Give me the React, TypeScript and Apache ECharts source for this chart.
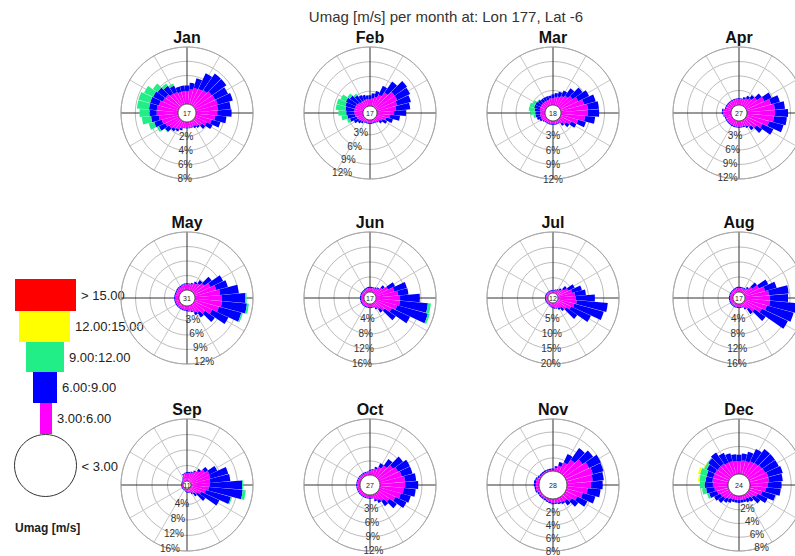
import React, { useEffect, useRef } from 'react';
import * as echarts from 'echarts';

// ---------------- data ----------------
const TITLE = 'Umag [m/s] per month at: Lon 177, Lat -6';
const MONTHS = ['Jan', 'Feb', 'Mar', 'Apr', 'May', 'Jun', 'Jul', 'Aug', 'Sep', 'Oct', 'Nov', 'Dec'];
// direction bins (degrees, clockwise from north), 10 degree bins
const DIRECTIONS = [
  '0', '10', '20', '30', '40', '50', '60', '70', '80', '90', '100', '110',
  '120', '130', '140', '150', '160', '170', '180', '190', '200', '210', '220', '230',
  '240', '250', '260', '270', '280', '290', '300', '310', '320', '330', '340', '350',
];
const SPOKES = ['0', '30', '60', '90', '120', '150', '180', '210', '240', '270', '300', '330'];
// calm (< 3 m/s) percentage shown in centre circle
const CALM_PCT = [17, 17, 18, 27, 31, 17, 12, 17, 11, 27, 28, 24];
// outermost ring value (%) of each rose, four rings each
const RING_MAX = [8, 12, 12, 12, 12, 16, 20, 16, 16, 12, 8, 8];
const SPEED_BINS = ['> 15.00', '12.00:15.00', '9.00:12.00', '6.00:9.00', '3.00:6.00', '< 3.00'];
const LEGEND_TITLE = 'Umag [m/s]';

// frequencies (%) per direction bin; order 0,10,...,350
const janMag = [1.8, 2.1, 2.4, 2.5, 2.7, 3.0, 3.1, 3.2, 3.1, 3.0, 2.7, 2.3, 1.8, 1.3, 1.0, 0.8, 0.8, 0.8, 0.8, 0.8, 1.0, 1.3, 1.5, 1.8, 2.1, 2.4, 2.7, 3.0, 3.0, 2.8, 2.5, 2.4, 2.1, 2.0, 1.8, 1.8];
const janBlu = [0.8, 0.9, 1.4, 2.4, 2.8, 2.5, 2.0, 2.2, 1.8, 2.0, 1.6, 1.3, 0.9, 0.6, 0.3, 0.3, 0.1, 0.1, 0.1, 0.1, 0.3, 0.3, 0.4, 0.7, 1.0, 1.1, 1.1, 1.0, 1.1, 1.3, 1.5, 1.4, 1.3, 1.0, 0.8, 0.8];
const janGrn = [0, 0, 0, 0, 0, 0, 0, 0, 0, 0, 0, 0, 0, 0, 0, 0, 0, 0, 0, 0, 0, 0, 0, 0.1, 0.3, 0.8, 1.3, 1.4, 1.7, 1.7, 1.4, 0.8, 0.4, 0.3, 0, 0];

const febMag = [1.4, 1.6, 2.0, 2.7, 3.7, 4.7, 4.7, 4.3, 3.9, 3.5, 2.7, 2.0, 1.4, 1.0, 0.8, 0.6, 0.6, 0.6, 0.6, 0.6, 0.6, 0.6, 0.8, 1.0, 1.2, 1.4, 1.6, 1.8, 1.8, 1.8, 1.8, 1.6, 1.4, 1.4, 1.4, 1.4];
const febBlu = [0.8, 1.0, 1.2, 2.0, 2.7, 3.1, 2.9, 2.9, 2.9, 2.4, 2.0, 1.4, 1.0, 0.6, 0.2, 0.2, 0.2, 0.2, 0.2, 0.2, 0.2, 0.2, 0.4, 0.6, 1.0, 1.4, 1.6, 1.6, 1.8, 2.0, 2.2, 2.0, 1.6, 1.2, 1.0, 0.8];
const febGrn = [0, 0, 0, 0, 0, 0, 0, 0, 0, 0, 0, 0, 0, 0, 0, 0, 0, 0, 0, 0, 0, 0, 0, 0, 0, 0.6, 1.2, 1.6, 2.0, 1.8, 1.2, 0.6, 0.4, 0, 0, 0];

const marMag = [1.4, 1.7, 1.9, 2.3, 2.7, 3.3, 4.1, 5.0, 5.6, 5.6, 5.0, 3.7, 2.5, 1.7, 1.0, 0.6, 0.6, 0.6, 0.6, 0.6, 0.6, 0.6, 0.6, 0.8, 1.0, 1.0, 1.0, 1.0, 1.0, 1.2, 1.2, 1.2, 1.2, 1.2, 1.2, 1.4];
const marBlu = [0.8, 0.8, 1.0, 1.2, 1.9, 2.5, 2.5, 2.5, 2.3, 2.3, 2.1, 1.7, 1.2, 0.8, 0.6, 0.2, 0.2, 0.2, 0.2, 0.2, 0.2, 0.2, 0.2, 0.2, 0.4, 0.8, 1.0, 1.0, 1.2, 1.2, 1.2, 1.0, 0.8, 0.8, 0.8, 0.6];
const marGrn = [0, 0, 0, 0, 0, 0, 0, 0, 0, 0, 0, 0, 0, 0, 0, 0, 0, 0, 0, 0, 0, 0, 0, 0, 0, 0, 0.4, 1.0, 1.2, 1.0, 0.6, 0.2, 0, 0, 0, 0];

const aprMag = [1.2, 1.2, 1.4, 1.7, 2.1, 2.9, 4.1, 5.2, 5.8, 5.8, 5.6, 4.8, 3.7, 2.7, 1.9, 1.4, 1.2, 1.2, 1.2, 1.2, 1.2, 1.2, 1.2, 1.2, 1.2, 1.2, 1.4, 1.7, 1.7, 1.2, 1.2, 1.2, 1.2, 1.2, 1.2, 1.2];
const aprBlu = [0.2, 0.2, 0.4, 0.6, 0.8, 1.2, 1.7, 1.9, 2.1, 2.7, 2.7, 3.1, 2.5, 1.5, 0.8, 0.4, 0.2, 0.2, 0.2, 0.2, 0.2, 0.2, 0.2, 0.2, 0.2, 0.2, 0.2, 0.2, 0.2, 0.2, 0.2, 0.2, 0.2, 0.2, 0.2, 0.2];

const mayMag = [1.2, 1.2, 1.4, 1.7, 2.1, 2.7, 3.7, 4.6, 5.2, 5.6, 5.6, 5.2, 4.1, 2.9, 2.1, 1.7, 1.2, 1.0, 0.9, 0.8, 0.8, 0.8, 0.8, 0.8, 0.8, 0.8, 0.8, 0.8, 0.8, 0.8, 0.8, 0.9, 1.0, 1.0, 1.1, 1.2];
const mayBlu = [0.2, 0.2, 0.2, 0.4, 0.8, 1.9, 2.9, 2.5, 3.9, 4.8, 5.2, 4.8, 3.7, 2.5, 1.2, 0.6, 0.2, 0.2, 0.2, 0.2, 0.2, 0.2, 0.2, 0.2, 0.2, 0.2, 0.2, 0.2, 0.2, 0.2, 0.2, 0.2, 0.2, 0.2, 0.2, 0.2];
const mayGrn = [0, 0, 0, 0, 0, 0, 0, 0, 0, 0.3, 0.4, 0.3, 0, 0, 0, 0, 0, 0, 0, 0, 0, 0, 0, 0, 0, 0, 0, 0, 0, 0, 0, 0, 0, 0, 0, 0];

const junMag = [1.1, 1.1, 1.1, 1.3, 1.6, 2.4, 3.7, 5.1, 5.9, 6.4, 6.4, 5.9, 4.8, 3.2, 2.1, 1.3, 0.8, 0.8, 0.8, 0.8, 0.8, 0.8, 0.8, 0.8, 0.8, 0.8, 0.8, 0.8, 0.8, 0.8, 0.8, 0.8, 0.8, 0.9, 1.0, 1.1];
const junBlu = [0.3, 0.3, 0.3, 0.3, 0.3, 0.8, 2.1, 3.5, 2.8, 5.3, 7.5, 8.5, 5.4, 3.6, 1.1, 0.5, 0.3, 0.3, 0.3, 0.3, 0.3, 0.3, 0.3, 0.3, 0.3, 0.3, 0.3, 0.3, 0.3, 0.3, 0.3, 0.3, 0.3, 0.3, 0.3, 0.3];
const junGrn = [0, 0, 0, 0, 0, 0, 0, 0, 0, 0, 0.8, 0.5, 0, 0, 0, 0, 0, 0, 0, 0, 0, 0, 0, 0, 0, 0, 0, 0, 0, 0, 0, 0, 0, 0, 0, 0];

const julMag = [0.7, 0.8, 1.0, 1.3, 1.6, 2.6, 3.9, 4.9, 5.6, 5.9, 6.2, 5.6, 4.9, 3.6, 2.3, 2.0, 1.8, 1.6, 1.4, 1.2, 1.0, 0.7, 0.7, 0.7, 0.7, 0.7, 0.7, 0.7, 0.7, 0.7, 0.7, 0.7, 0.7, 0.7, 0.7, 0.7];
const julBlu = [0.3, 0.3, 0.3, 0.3, 0.7, 1.3, 2.3, 3.3, 3.6, 6.2, 10.2, 10.0, 7.2, 4.5, 1.3, 0.7, 0.3, 0.3, 0.3, 0.3, 0.3, 0.3, 0.3, 0.3, 0.3, 0.3, 0.3, 0.3, 0.3, 0.3, 0.3, 0.3, 0.3, 0.3, 0.3, 0.3];

const augMag = [1.1, 1.1, 1.1, 1.1, 1.6, 2.7, 4.3, 5.6, 6.4, 6.7, 6.7, 6.1, 5.1, 3.5, 2.1, 1.3, 0.8, 0.8, 0.8, 0.8, 0.8, 0.8, 0.8, 0.8, 0.8, 0.8, 0.8, 0.8, 0.8, 0.8, 0.8, 0.8, 0.8, 0.9, 1.0, 1.1];
const augBlu = [0.3, 0.3, 0.3, 0.3, 0.5, 1.6, 2.7, 3.2, 5.3, 4.8, 8.3, 7.4, 7.7, 3.6, 1.6, 0.5, 0.3, 0.3, 0.3, 0.3, 0.3, 0.3, 0.3, 0.3, 0.3, 0.3, 0.3, 0.3, 0.3, 0.3, 0.3, 0.3, 0.3, 0.3, 0.3, 0.3];

const sepMag = [2.0, 2.1, 2.3, 2.8, 3.5, 4.6, 5.4, 5.2, 5.0, 4.9, 4.6, 4.0, 3.0, 2.2, 1.6, 1.2, 1.0, 0.8, 0.8, 0.6, 0.3, 0.3, 0.3, 0.3, 0.3, 0.3, 0.3, 0.3, 0.3, 0.3, 0.3, 0.4, 0.6, 1.0, 1.8, 2.0];
const sepBlu = [0.3, 0.3, 0.3, 0.3, 0.6, 1.0, 2.2, 4.8, 5.2, 8.3, 8.8, 6.7, 5.2, 2.6, 1.0, 0.4, 0.2, 0.2, 0.2, 0.2, 0.2, 0.2, 0.2, 0.2, 0.2, 0.2, 0.2, 0.2, 0.2, 0.2, 0.2, 0.2, 0.2, 0.2, 0.2, 0.2];
const sepGrn = [0, 0, 0, 0, 0, 0, 0, 0, 0, 0.3, 0.8, 0.3, 0, 0, 0, 0, 0, 0, 0, 0, 0, 0, 0, 0, 0, 0, 0, 0, 0, 0, 0, 0, 0, 0, 0, 0];

const octMag = [0.9, 1.1, 1.5, 2.1, 3.0, 3.9, 4.5, 4.9, 5.4, 5.4, 5.1, 4.7, 3.9, 3.0, 2.1, 1.5, 1.1, 0.6, 0.6, 0.6, 0.6, 0.6, 0.6, 0.6, 0.6, 0.6, 0.6, 0.6, 0.6, 0.6, 0.6, 0.6, 0.6, 0.6, 0.6, 0.6];
const octBlu = [0.2, 0.2, 0.4, 0.9, 1.7, 2.6, 2.8, 2.4, 2.4, 2.8, 2.6, 2.2, 2.6, 1.9, 1.3, 0.6, 0.4, 0.2, 0.2, 0.2, 0.2, 0.2, 0.2, 0.2, 0.2, 0.2, 0.2, 0.2, 0.2, 0.2, 0.2, 0.2, 0.2, 0.2, 0.2, 0.2];

const novMag = [0.2, 0.5, 0.9, 1.7, 2.6, 3.4, 4.0, 4.2, 4.0, 3.7, 3.2, 2.6, 2.0, 1.4, 0.9, 0.8, 0.7, 0.6, 0.6, 0.5, 0.4, 0.3, 0.3, 0.3, 0.3, 0.5, 0.5, 0.5, 0.5, 0.5, 0.3, 0.2, 0.2, 0.2, 0.2, 0.2];
const novBlu = [0.2, 0.3, 0.6, 1.4, 2.2, 2.0, 2.0, 1.7, 1.7, 1.8, 2.0, 2.0, 1.7, 1.2, 0.8, 0.3, 0.2, 0.2, 0.2, 0.2, 0.2, 0.2, 0.2, 0.2, 0.2, 0.2, 0.2, 0.3, 0.3, 0.2, 0.2, 0.2, 0.2, 0.2, 0.2, 0.2];

const decMag = [1.9, 2.0, 2.0, 2.2, 2.3, 2.5, 2.6, 2.8, 2.8, 2.6, 2.3, 1.9, 1.4, 1.0, 0.7, 0.6, 0.6, 0.6, 0.6, 0.6, 0.6, 0.7, 0.9, 1.2, 1.4, 1.7, 2.0, 2.2, 2.3, 2.3, 2.3, 2.2, 2.2, 2.0, 2.0, 1.9];
const decBlu = [0.9, 1.0, 1.4, 2.0, 2.5, 2.3, 2.2, 2.2, 2.0, 2.0, 2.2, 2.0, 1.6, 1.2, 0.7, 0.6, 0.4, 0.4, 0.4, 0.4, 0.4, 0.6, 0.7, 0.9, 1.0, 1.2, 1.2, 1.2, 1.0, 1.0, 1.3, 1.7, 2.0, 1.6, 1.2, 1.0];
const decGrn = [0, 0, 0, 0, 0, 0, 0, 0, 0, 0, 0, 0, 0, 0, 0, 0, 0, 0, 0, 0, 0, 0, 0, 0, 0, 0.3, 0.6, 0.7, 0.9, 1.0, 0.4, 0.1, 0, 0, 0, 0];
const decYel = [0, 0, 0, 0, 0, 0, 0, 0, 0, 0, 0, 0, 0, 0, 0, 0, 0, 0, 0, 0, 0, 0, 0, 0, 0, 0, 0, 0, 0.2, 0.3, 0.1, 0, 0, 0, 0, 0];

const MONTH_DATA: { mag: number[]; blu: number[]; grn?: number[]; yel?: number[] }[] = [
  { mag: janMag, blu: janBlu, grn: janGrn },
  { mag: febMag, blu: febBlu, grn: febGrn },
  { mag: marMag, blu: marBlu, grn: marGrn },
  { mag: aprMag, blu: aprBlu },
  { mag: mayMag, blu: mayBlu, grn: mayGrn },
  { mag: junMag, blu: junBlu, grn: junGrn },
  { mag: julMag, blu: julBlu },
  { mag: augMag, blu: augBlu },
  { mag: sepMag, blu: sepBlu, grn: sepGrn },
  { mag: octMag, blu: octBlu },
  { mag: novMag, blu: novBlu },
  { mag: decMag, blu: decBlu, grn: decGrn, yel: decYel },
];

// ---------------- layout / style ----------------
const FONT = '"Liberation Sans", Arial, Helvetica, sans-serif';
const COL_X = [187, 370, 553, 739];
const ROW_Y = [113, 298, 485];
const OUTER_R = 66;
const CALM_R = [9, 7, 8, 8, 8, 6, 5, 6, 4, 10, 14, 11];
const LABEL_ANGLE = [-92, -115, -90, -100, -75, -97, -92, -92, -105, -87, -90, -70];
const TITLE_DY = -76;

const C_RED = '#ff0000';
const C_YEL = '#ffff00';
const C_GRN = '#22ee88';
const C_BLU = '#0000ff';
const C_MAG = '#ff00ff';

const LEGEND_BOXES = [
  { x: 15, y: 279, w: 61, h: 32, color: C_RED },
  { x: 19, y: 311, w: 51, h: 31, color: C_YEL },
  { x: 26, y: 342, w: 38, h: 30, color: C_GRN },
  { x: 33, y: 372, w: 24, h: 31, color: C_BLU },
  { x: 40, y: 403, w: 12, h: 31, color: C_MAG },
];
const LEGEND_CIRCLE = { cx: 45.5, cy: 465.5, r: 31 };

function buildOption(): any {
  const polar: any[] = [];
  const angleAxis: any[] = [];
  const radiusAxis: any[] = [];
  const series: any[] = [];
  const graphic: any[] = [];

  MONTH_DATA.forEach((md, i) => {
    const cx = COL_X[i % 4];
    const cy = ROW_Y[Math.floor(i / 4)];
    const r0 = CALM_R[i];
    const max = RING_MAX[i];
    const step = max / 4;
    const radius = [r0, OUTER_R];

    // grid polar: spokes every 30 degrees (N-S / E-W in dark) and rings
    const gi = polar.length;
    polar.push({ center: [cx, cy], radius });
    angleAxis.push({
      polarIndex: gi, type: 'category', data: SPOKES, startAngle: 90, clockwise: true, boundaryGap: true,
      axisLine: { show: true, lineStyle: { color: '#a8a8a8', width: 1 } },
      axisTick: { show: false }, axisLabel: { show: false },
      splitLine: { show: true, lineStyle: { color: ['#333333', '#c6c6c6', '#c6c6c6'], width: 1 } },
      silent: true, z: 0,
    });
    radiusAxis.push({
      polarIndex: gi, type: 'value', min: 0, max, interval: step,
      axisLine: { show: false }, axisTick: { show: false }, axisLabel: { show: false },
      splitLine: { show: true, lineStyle: { color: '#bcbcbc', width: 1 } },
      silent: true, z: 0,
    });

    // data polar: 36 direction bins centred on north
    const di = polar.length;
    polar.push({ center: [cx, cy], radius });
    angleAxis.push({
      polarIndex: di, type: 'category', data: DIRECTIONS, startAngle: 95, clockwise: true, boundaryGap: true,
      show: false,
    });
    radiusAxis.push({ polarIndex: di, type: 'value', min: 0, max, show: false });

    // label polar: ring percentage labels along a chosen direction
    const li = polar.length;
    polar.push({ center: [cx, cy], radius });
    angleAxis.push({ polarIndex: li, type: 'value', min: 0, max: 360, startAngle: LABEL_ANGLE[i], show: false });
    radiusAxis.push({
      polarIndex: li, type: 'value', min: 0, max, interval: step, z: 10,
      axisLine: { show: false }, axisTick: { show: false }, splitLine: { show: false },
      axisLabel: {
        show: true, margin: 0, align: 'center', verticalAlign: 'middle',
        fontSize: 10, color: '#333', fontFamily: FONT,
        formatter: (v: number) => (v === 0 ? '' : `${v}%`),
      },
    });

    const layers: [number[] | undefined, string][] = [
      [md.mag, C_MAG], [md.blu, C_BLU], [md.grn, C_GRN], [md.yel, C_YEL],
    ];
    layers.forEach(([arr, color]) => {
      if (!arr) return;
      series.push({
        type: 'bar', coordinateSystem: 'polar', polarIndex: di, stack: 'rose' + i,
        data: arr, barCategoryGap: '4%', itemStyle: { color }, silent: true, z: 2,
      });
    });

    // calm circle with calm percentage
    series.push({
      type: 'pie', center: [cx, cy], radius: r0, silent: true, z: 4,
      startAngle: 90, clockwise: true,
      data: [{ value: CALM_PCT[i], name: 'calm' }],
      itemStyle: { color: '#ffffff', borderColor: '#333333', borderWidth: 0.8 },
      label: { show: true, position: 'center', formatter: '{c}', fontSize: 7, color: '#222', fontFamily: FONT },
      labelLine: { show: false },
      emphasis: { disabled: true },
    });

    graphic.push({
      type: 'text', x: cx, y: cy + TITLE_DY, silent: true,
      style: { text: MONTHS[i], align: 'center', verticalAlign: 'middle', font: `bold 16px ${FONT}`, fill: '#111' },
    });
  });

  graphic.push({
    type: 'text', x: 446, y: 16, silent: true,
    style: { text: TITLE, align: 'center', verticalAlign: 'middle', font: `15px ${FONT}`, fill: '#333' },
  });

  // legend
  LEGEND_BOXES.forEach((b, k) => {
    graphic.push({ type: 'rect', silent: true, shape: { x: b.x, y: b.y, width: b.w, height: b.h }, style: { fill: b.color } });
    graphic.push({
      type: 'text', x: b.x + b.w + 5, y: b.y + b.h / 2, silent: true,
      style: { text: SPEED_BINS[k], align: 'left', verticalAlign: 'middle', font: `13px ${FONT}`, fill: '#222' },
    });
  });
  graphic.push({
    type: 'circle', silent: true, shape: { cx: LEGEND_CIRCLE.cx, cy: LEGEND_CIRCLE.cy, r: LEGEND_CIRCLE.r },
    style: { fill: '#fff', stroke: '#333', lineWidth: 1 },
  });
  graphic.push({
    type: 'text', x: LEGEND_CIRCLE.cx + LEGEND_CIRCLE.r + 5, y: LEGEND_CIRCLE.cy + 1, silent: true,
    style: { text: SPEED_BINS[5], align: 'left', verticalAlign: 'middle', font: `13px ${FONT}`, fill: '#222' },
  });
  graphic.push({
    type: 'text', x: 15, y: 528, silent: true,
    style: { text: LEGEND_TITLE, align: 'left', verticalAlign: 'middle', font: `bold 12px ${FONT}`, fill: '#222' },
  });

  return {
    animation: false,
    backgroundColor: '#ffffff',
    textStyle: { fontFamily: FONT },
    polar,
    angleAxis,
    radiusAxis,
    series,
    graphic,
  };
}

export default function App() {
  const ref = useRef<HTMLDivElement>(null);
  useEffect(() => {
    if (!ref.current) return;
    const chart = echarts.init(ref.current, null, { renderer: 'svg' });
    chart.setOption(buildOption());
    return () => chart.dispose();
  }, []);
  return (
    <div
      ref={ref}
      style={{ position: 'fixed', left: 0, top: 0, width: 795, height: 556, background: '#fff' }}
    />
  );
}
